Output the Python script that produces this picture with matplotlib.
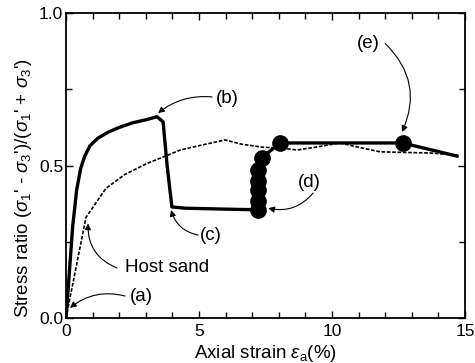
import matplotlib
matplotlib.use("Agg")
import matplotlib.pyplot as plt
from matplotlib.ticker import MultipleLocator, FormatStrFormatter

plt.rcParams['font.family'] = ['Liberation Sans', 'DejaVu Sans']
plt.rcParams['mathtext.fontset'] = 'custom'
plt.rcParams['mathtext.rm'] = 'Liberation Sans'
plt.rcParams['mathtext.it'] = 'Liberation Sans:italic'

# Bold specimen curve
strain_main = [0.0, 0.1, 0.25, 0.4, 0.55, 0.7, 0.9, 1.2, 1.6, 2.0, 2.5, 3.0, 3.42, 3.65, 3.8, 3.98, 4.5, 5.5, 6.5, 7.2]
ratio_main = [0.0, 0.12, 0.3, 0.42, 0.49, 0.53, 0.565, 0.59, 0.61, 0.625, 0.64, 0.65, 0.66, 0.643, 0.5, 0.364, 0.36, 0.358, 0.356, 0.355]

# Marker segment (d)->(e)
strain_mk = [7.2, 7.2, 7.2, 7.2, 7.22, 7.35, 8.05, 12.65]
ratio_mk = [0.355, 0.385, 0.42, 0.45, 0.485, 0.525, 0.574, 0.574]
strain_tail = [12.65, 14.7]
ratio_tail = [0.574, 0.531]

# Host sand (dashed)
strain_host = [0.0, 0.75, 1.5, 2.2, 3.0, 4.3, 5.0, 5.98, 6.6, 7.4, 8.05, 8.7, 9.5, 10.3, 11.0, 11.8, 12.7, 13.7, 14.7]
ratio_host = [0.0, 0.33, 0.425, 0.47, 0.505, 0.551, 0.565, 0.584, 0.57, 0.56, 0.557, 0.551, 0.562, 0.574, 0.56, 0.545, 0.543, 0.541, 0.534]

fig = plt.figure(figsize=(4.75, 3.63), dpi=100)
ax = fig.add_axes([0.139, 0.124, 0.840, 0.840])

ax.plot(strain_host, ratio_host, color='black', lw=1.2, ls=(0, (2.2, 1.0)))
ax.plot(strain_main, ratio_main, color='black', lw=2.4, solid_joinstyle='round')
ax.plot(strain_mk, ratio_mk, color='black', lw=2.4, marker='o', ms=11, solid_joinstyle='round')
ax.plot(strain_tail, ratio_tail, color='black', lw=2.4)

ax.set_xlim(0, 15)
ax.set_ylim(0, 1.0)
ax.xaxis.set_major_locator(MultipleLocator(5))
ax.xaxis.set_minor_locator(MultipleLocator(1))
ax.yaxis.set_major_locator(MultipleLocator(0.5))
ax.yaxis.set_minor_locator(MultipleLocator(0.25))
ax.yaxis.set_major_formatter(FormatStrFormatter('%.1f'))
ax.tick_params(which='both', direction='in', top=True, right=True, labelsize=12.5, pad=2)
ax.tick_params(axis='x', pad=4)
ax.tick_params(which='major', length=5, width=1)
ax.tick_params(which='minor', length=4, width=1)
for s in ax.spines.values():
    s.set_linewidth(1.3)

ax.set_xlabel(r"Axial strain $\it{\varepsilon}_{\rm a}$(%)", fontsize=13.5, labelpad=3)
ax.set_ylabel(r"Stress ratio ($\sigma_1$' - $\sigma_3$')/($\sigma_1$' + $\sigma_3$')", fontsize=13.5)
ax.yaxis.set_label_coords(-0.08, 0.426)

ann = [
    ("(a)", (2.82, 0.069), (2.22, 0.072), (0.15, 0.033), 0.25),
    ("Host sand", (3.8, 0.164), (1.92, 0.164), (0.83, 0.31), -0.35),
    ("(c)", (5.45, 0.272), (4.96, 0.272), (3.95, 0.354), -0.3),
    ("(b)", (6.05, 0.721), (5.49, 0.725), (3.46, 0.672), 0.2),
    ("(d)", (9.14, 0.443), (9.29, 0.41), (7.6, 0.36), -0.3),
    ("(e)", (11.35, 0.90), (12.0, 0.90), (12.63, 0.61), -0.35),
]
for label, tpos, tail, head, rad in ann:
    ax.text(tpos[0], tpos[1], label, fontsize=13.5, ha='center', va='center')
    ax.annotate('', xy=head, xytext=tail,
                arrowprops=dict(arrowstyle='-|>', color='black', lw=0.8,
                                mutation_scale=9, shrinkA=0, shrinkB=0,
                                connectionstyle=f'arc3,rad={rad}'))

fig.savefig('out.png', dpi=100)
